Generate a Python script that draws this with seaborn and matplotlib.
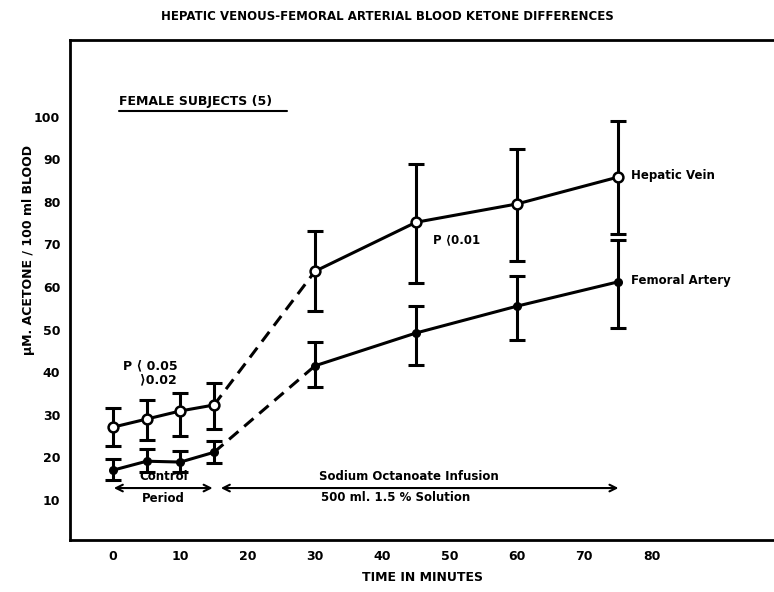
import matplotlib
matplotlib.use("Agg")
import matplotlib.pyplot as plt
import seaborn as sns
import pandas as pd
import numpy as np

sns.set_theme(style="white")
plt.rcParams['font.family'] = ['DejaVu Sans']
plt.rcParams['text.color'] = 'black'
plt.rcParams['axes.labelcolor'] = 'black'
plt.rcParams['xtick.color'] = 'black'
plt.rcParams['ytick.color'] = 'black'

times = [0, 5, 10, 15, 30, 45, 60, 75]
hepatic = [27.1, 29.0, 30.9, 32.3, 63.7, 75.2, 79.5, 85.8]
hepatic_hi = [31.6, 33.5, 35.1, 37.5, 73.1, 89.0, 92.4, 98.9]
hepatic_lo = [22.7, 24.0, 25.0, 26.7, 54.4, 61.0, 66.0, 72.4]
femoral = [17.0, 19.1, 18.9, 21.2, 41.5, 49.2, 55.5, 61.2]
femoral_hi = [19.6, 22.0, 21.5, 23.8, 47.1, 55.5, 62.6, 71.0]
femoral_lo = [14.7, 16.6, 16.6, 18.7, 36.5, 41.7, 47.6, 50.4]
xticks = [0, 10, 20, 30, 40, 50, 60, 70, 80]
yticks = [10, 20, 30, 40, 50, 60, 70, 80, 90, 100]

df = pd.DataFrame({"t": times * 2,
                   "v": hepatic + femoral,
                   "hi": hepatic_hi + femoral_hi,
                   "lo": hepatic_lo + femoral_lo,
                   "series": ["Hepatic Vein"] * 8 + ["Femoral Artery"] * 8})

fig = plt.figure(figsize=(7.74, 5.92), dpi=100)
ax = fig.add_axes([70/774, 1-540/592, 704/774, 500/592])

for s in ["Hepatic Vein", "Femoral Artery"]:
    d = df[df.series == s]
    ctrl = d[d.t <= 15]
    inf = d[d.t >= 30]
    bridge = d[(d.t >= 15) & (d.t <= 30)]
    sns.lineplot(data=ctrl, x="t", y="v", ax=ax, color="black", lw=2.2, estimator=None)
    sns.lineplot(data=inf, x="t", y="v", ax=ax, color="black", lw=2.2, estimator=None)
    sns.lineplot(data=bridge, x="t", y="v", ax=ax, color="black", lw=2.2,
                 linestyle=(0, (4, 2.5)), estimator=None)
    ax.errorbar(d.t, d.v, yerr=[d.v - d.lo, d.hi - d.v], fmt="none",
                ecolor="black", elinewidth=2.2, capsize=6, capthick=2.2)

h = df[df.series == "Hepatic Vein"]
f = df[df.series == "Femoral Artery"]
ax.scatter(h.t, h.v, s=50, facecolor="white", edgecolor="black", linewidth=1.8, zorder=5)
ax.scatter(f.t, f.v, s=30, color="black", zorder=5)

ax.set_xlim(-6.4, 98.2)
ax.set_ylim(0.6, 118)
ax.set_xticks(xticks)
ax.set_yticks(yticks)
ax.set_xticklabels([str(x) for x in xticks], fontsize=9, fontweight="bold")
ax.set_yticklabels([str(y) for y in yticks], fontsize=9, fontweight="bold")
ax.tick_params(axis="both", direction="out", length=5, width=1.8, color="black", pad=2)
for sp in ["left", "bottom", "top"]:
    ax.spines[sp].set_linewidth(2.0)
    ax.spines[sp].set_color("black")
ax.spines["right"].set_visible(False)
ax.set_xlabel("TIME IN MINUTES", fontsize=9, fontweight="bold", labelpad=6)
ax.set_ylabel("μM. ACETONE / 100 ml BLOOD", fontsize=9, fontweight="bold", labelpad=12)
ax.yaxis.set_label_coords(-0.05, 0.58)

fig.text(0.5, 1 - 17/592, "HEPATIC VENOUS-FEMORAL ARTERIAL BLOOD KETONE DIFFERENCES",
         ha="center", va="center", fontsize=8.5, fontweight="bold")

ax.text(0.9, 103.5, "FEMALE SUBJECTS (5)", fontsize=9, fontweight="bold", ha="left", va="center")
ax.plot([0.9, 25.9], [101.3, 101.3], color="black", lw=1.5)
ax.text(1.5, 41.5, "P ⟨ 0.05", fontsize=9, fontweight="bold", ha="left", va="center")
ax.text(4.0, 38.2, "⟩0.02", fontsize=9, fontweight="bold", ha="left", va="center")
ax.text(47.5, 71.0, "P ⟨0.01", fontsize=8.5, fontweight="bold", ha="left", va="center")
ax.text(77.0, 86.3, "Hepatic Vein", fontsize=8.5, fontweight="bold", ha="left", va="center")
ax.text(77.0, 61.5, "Femoral Artery", fontsize=8.5, fontweight="bold", ha="left", va="center")

ax.annotate("", xy=(-0.3, 12.8), xytext=(15.2, 12.8),
            arrowprops=dict(arrowstyle="<->", color="black", lw=1.5))
ax.annotate("", xy=(15.6, 12.8), xytext=(75.5, 12.8),
            arrowprops=dict(arrowstyle="<->", color="black", lw=1.5))
ax.text(7.5, 15.4, "Control", fontsize=8.5, fontweight="bold", ha="center", va="center")
ax.text(7.5, 10.4, "Period", fontsize=8.5, fontweight="bold", ha="center", va="center")
ax.text(44.0, 15.6, "Sodium Octanoate Infusion", fontsize=8.5, fontweight="bold", ha="center", va="center")
ax.text(42.0, 10.6, "500 ml. 1.5 % Solution", fontsize=8.5, fontweight="bold", ha="center", va="center")

fig.savefig("out.png", dpi=100)
